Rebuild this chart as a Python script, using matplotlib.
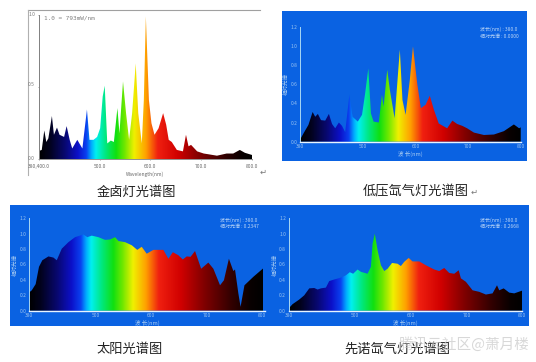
import numpy as np
import matplotlib
matplotlib.use("Agg")
import matplotlib.pyplot as plt
from matplotlib.colors import LinearSegmentedColormap

plt.rcParams['font.family'] = ['Noto Sans CJK SC', 'DejaVu Sans']

W, H = 536, 362
PANEL_BLUE = "#0a62e2"

# metal halide lamp
halide_nm = [382, 382, 386, 391, 395, 399, 406, 410, 416, 421, 430, 435, 441, 446, 456, 466, 475, 480, 488, 495,
             501, 506, 510, 515, 522, 528, 535, 539, 546, 552, 558, 564, 571, 576, 583, 587, 591, 597, 602, 608, 616,
             625, 631, 636, 642, 652, 664, 670, 675, 680, 692, 705, 714, 731, 750, 763, 776, 786, 800]
halide_val = [0.0, 0.06, 0.065, 0.20, 0.12, 0.145, 0.30, 0.17, 0.22, 0.17, 0.155, 0.23, 0.135, 0.075, 0.135, 0.075,
              0.345, 0.135, 0.135, 0.155, 0.215, 0.435, 0.51, 0.11, 0.13, 0.12, 0.355, 0.18, 0.54, 0.32, 0.135, 0.32,
              0.665, 0.32, 0.11, 0.41, 0.99, 0.41, 0.25, 0.17, 0.215, 0.32, 0.24, 0.135, 0.12, 0.065, 0.055, 0.17, 0.09,
              0.10, 0.055, 0.04, 0.035, 0.025, 0.04, 0.04, 0.065, 0.045, 0.03]

# low pressure xenon lamp
low_xenon_nm = [380, 387, 396, 404, 409, 414, 420, 428, 435, 441, 447, 454, 460, 466, 474, 480, 490, 498, 504, 510,
                515, 520, 530, 536, 539, 546, 551, 560, 570, 575, 581, 589, 595, 603, 610, 619, 627, 635, 644, 660,
                670, 679, 689, 698, 711, 730, 749, 768, 787, 797, 800]
low_xenon_val = [0.02, 0.09, 0.175, 0.31, 0.26, 0.29, 0.225, 0.22, 0.29, 0.185, 0.14, 0.20, 0.165, 0.10, 0.49, 0.26,
                 0.21, 0.28, 0.505, 0.765, 0.295, 0.21, 0.20, 0.49, 0.365, 0.75, 0.54, 0.245, 0.96, 0.435, 0.28, 0.645,
                 0.995, 0.61, 0.35, 0.385, 0.48, 0.33, 0.19, 0.14, 0.22, 0.185, 0.165, 0.14, 0.095, 0.07, 0.075, 0.11,
                 0.18, 0.14, 0.15]

# sunlight
sun_nm = [380, 385, 392, 398, 404, 415, 424, 430, 439, 451, 463, 478, 485, 493, 505, 517, 526, 535, 541, 553,
          565, 575, 583, 592, 604, 622, 631, 639, 649, 657, 664, 671, 679, 690, 703, 712, 724, 731, 740, 748,
          751, 757, 761, 768, 784, 805]
sun_val = [0.235, 0.265, 0.345, 0.57, 0.655, 0.705, 0.69, 0.655, 0.805, 0.89, 0.955, 0.99, 0.955, 0.975, 0.955, 0.92,
           0.925, 0.955, 0.905, 0.89, 0.85, 0.79, 0.83, 0.74, 0.79, 0.79, 0.675, 0.76, 0.72, 0.665, 0.705, 0.70,
           0.775, 0.545, 0.625, 0.545, 0.33, 0.395, 0.675, 0.515, 0.535, 0.225, 0.05, 0.33, 0.44, 0.57]

# xenon lamp
xenon_nm = [380, 387, 399, 408, 417, 426, 432, 438, 447, 453, 462, 474, 483, 490, 496, 504, 510, 522, 528, 531,
            535, 540, 546, 552, 558, 566, 576, 582, 588, 596, 603, 615, 627, 642, 651, 660, 669, 678, 686, 690,
            699, 711, 723, 735, 747, 755, 759, 767, 777, 786, 800]
xenon_val = [0.03, 0.085, 0.145, 0.20, 0.29, 0.295, 0.275, 0.29, 0.30, 0.385, 0.405, 0.43, 0.46, 0.50, 0.48, 0.535,
             0.505, 0.48, 0.57, 0.87, 1.0, 0.785, 0.59, 0.515, 0.545, 0.62, 0.61, 0.58, 0.635, 0.685, 0.64, 0.64,
             0.59, 0.535, 0.515, 0.555, 0.49, 0.48, 0.525, 0.42, 0.375, 0.265, 0.245, 0.21, 0.225, 0.33, 0.265, 0.29,
             0.235, 0.225, 0.26]

y_ticks = [0, 0.2, 0.4, 0.6, 0.8, 1.0, 1.2]
y_tick_labels = ["0.0", "0.2", "0.4", "0.6", "0.8", "1.0", "1.2"]
x_ticks = [380, 500, 600, 700, 800]
x_tick_labels = ["380", "500", "600", "700", "800"]

titles = ["金卤灯光谱图", "低压氙气灯光谱图", "太阳光谱图", "先诺氙气灯光谱图"]

spectrum = LinearSegmentedColormap.from_list("spectrum", [
    (0.0, "#000000"), (0.05, "#02021e"), (0.12, "#080870"), (0.18, "#0c10c8"), (0.22, "#0a40f0"),
    (0.245, "#00b0ff"), (0.265, "#00f0f0"), (0.31, "#00e880"), (0.36, "#10e010"), (0.40, "#70e800"),
    (0.445, "#f0f000"), (0.50, "#ffa000"), (0.555, "#f02010"), (0.65, "#d00000"), (0.75, "#800000"),
    (0.87, "#300000"), (0.95, "#080000"), (1.0, "#000000")])


def px_axes(fig, left, right, top, bottom):
    return fig.add_axes([left / W, 1 - bottom / H, (right - left) / W, (bottom - top) / H])


def draw_spectrum(ax, nm, val, xlim, ylim):
    nm = np.array(nm, dtype=float)
    val = np.array(val, dtype=float)
    grad = np.linspace(0, 1, 512)[None, :]
    img = ax.imshow(grad, extent=(380, 800, 0, ylim), cmap=spectrum, aspect="auto", zorder=2)
    poly = ax.fill_between(nm, 0, val, color="none", linewidth=0)
    img.set_clip_path(poly.get_paths()[0], transform=ax.transData)
    ax.set_xlim(*xlim)
    ax.set_ylim(0, ylim)


def style_blue(ax):
    ax.patch.set_alpha(0)
    for s in ("top", "right"):
        ax.spines[s].set_visible(False)
    ax.spines["left"].set_color("#a8d8f4")
    ax.spines["bottom"].set_color("#e8f4ff")
    ax.spines["left"].set_linewidth(0.7)
    ax.spines["bottom"].set_linewidth(1.0)
    ax.set_xticks(x_ticks, x_tick_labels)
    ax.set_yticks(y_ticks, y_tick_labels)
    ax.tick_params(length=0, pad=2, labelsize=3.5, colors="#9cc4f0")
    ax.set_xlabel("波 长(nm)", fontsize=4, color="#a8ccf2", labelpad=1)
    ax.set_ylabel("相对光谱", fontsize=4, color="#a8ccf2", labelpad=1)


fig = plt.figure(figsize=(W / 100, H / 100), dpi=100, facecolor="#ffffff")
bg = fig.add_axes([0, 0, 1, 1])
bg.set_xlim(0, W)
bg.set_ylim(H, 0)
bg.axis("off")

# blue panels
for x0, x1, y0, y1 in [(282.3, 526.7, 11, 160.7), (10, 270, 205, 326), (269.5, 529, 205, 326)]:
    bg.fill_between([x0, x1], y0, y1, color=PANEL_BLUE, linewidth=0)
bg.plot([27.5, 260], [10.3, 10.3], color="#a0a0a0", lw=0.8)
bg.plot([27.7, 27.7], [10.3, 175], color="#b0b0b0", lw=0.8)

# metal halide panel, white
ax1 = px_axes(fig, 38.7, 252, 15, 159.3)
draw_spectrum(ax1, halide_nm, halide_val, (380, 800), 1.0)
ax1.patch.set_alpha(0)
for s in ("top", "right"):
    ax1.spines[s].set_visible(False)
ax1.spines["left"].set_color("#808080")
ax1.spines["bottom"].set_color("#909090")
ax1.spines["left"].set_linewidth(0.7)
ax1.spines["bottom"].set_linewidth(0.7)
ax1.set_xticks(x_ticks, ["380,400.0", "500.0", "600.0", "700.0", "800.0"])
ax1.set_yticks([0, 0.5, 1.0], [])
ax1.tick_params(length=1, width=0.5, color="#808080", pad=2.5, labelsize=3.5, labelcolor="#666666")
ax1.set_xlabel("Wavelength(nm)", fontsize=3.5, color="#666666", labelpad=2)
for y, s in [(159, "0.0"), (86, "0.5"), (15, "1.0")]:
    bg.text(31.5, y - 1, s, fontsize=3.5, color="#777777", ha="center", va="center")
bg.text(44.5, 17.5, "1.0 = 793mW/nm", fontsize=4.3, color="#808080", ha="left", va="center", family="DejaVu Sans Mono")

# blue panels with data
ax2 = px_axes(fig, 300, 520.7, 26.7, 141.7)
draw_spectrum(ax2, low_xenon_nm, low_xenon_val, (380, 800), 1.2)
style_blue(ax2)

ax3 = px_axes(fig, 29, 265, 218.3, 310.7)
draw_spectrum(ax3, sun_nm, sun_val, (380, 805), 1.2)
style_blue(ax3)

ax4 = px_axes(fig, 288.7, 522, 218.3, 310.7)
draw_spectrum(ax4, xenon_nm, xenon_val, (380, 800), 1.2)
style_blue(ax4)

# readouts
for x, y, a, b in [(480, 29.5, "波长(nm) : 380.0", "相对光谱 : 0.0000"),
                   (220, 220, "波长(nm) : 380.0", "相对光谱 : 0.2347"),
                   (480, 220, "波长(nm) : 380.0", "相对光谱 : 0.2668")]:
    bg.text(x, y, a, fontsize=3.6, color="#b8d4f6", ha="left", va="center")
    bg.text(x, y + 6.5, b, fontsize=3.6, color="#b8d4f6", ha="left", va="center")

# captions
for x, y, s in [(136, 192.5, titles[0]), (416, 192, titles[1]), (130, 349, titles[2]), (397, 349, titles[3])]:
    bg.text(x, y, s, fontsize=9.5, color="#222222", ha="center", va="center")
bg.text(474, 192, "↵", fontsize=6, color="#777777", ha="center", va="center", family="DejaVu Sans")
bg.text(263, 172, "↵", fontsize=6, color="#777777", ha="center", va="center", family="DejaVu Sans")
bg.text(464, 345, "腾讯云社区@萧月楼", fontsize=10.5, color="#c8c8c8", alpha=0.7, ha="center", va="center")

fig.savefig("out.png", dpi=100)
